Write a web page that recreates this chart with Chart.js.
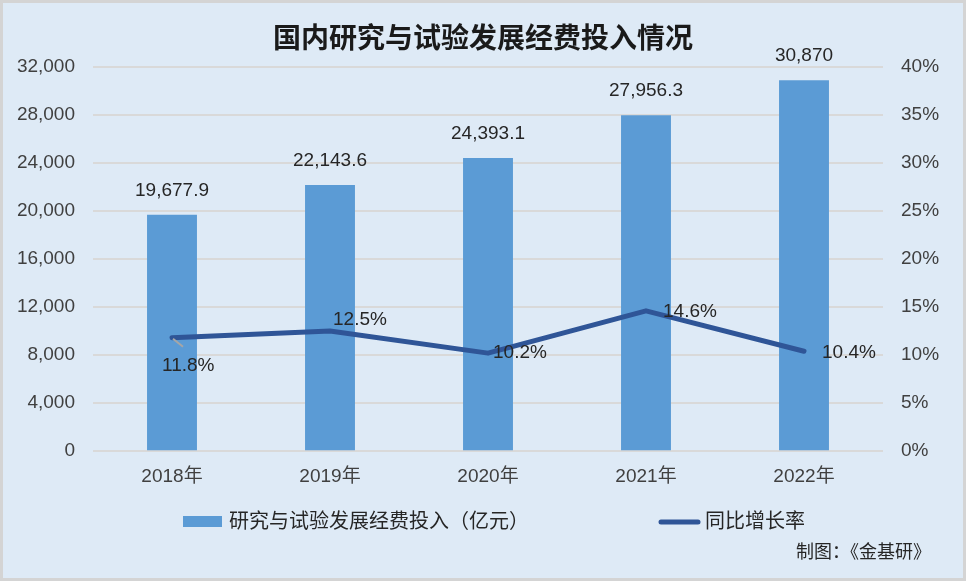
<!DOCTYPE html>
<html>
<head>
<meta charset="utf-8">
<script src="https://cdn.jsdelivr.net/npm/chart.js@4.4.0/dist/chart.umd.min.js"></script>
<style>
  html, body { margin: 0; padding: 0; background: #deeaf6; }
  #wrap { width: 966px; height: 581px; }
</style>
</head>
<body>
<div id="wrap"><canvas id="grafico" width="966" height="581"></canvas></div>
<script>
// --- DATOS ---
const years = ['2018年', '2019年', '2020年', '2021年', '2022年'];
const rdSpend = [19677.9, 22143.6, 24393.1, 27956.3, 30870];   // 亿元
const yoyGrowth = [11.8, 12.5, 10.2, 14.6, 10.4];              // %
const leftTicks = [0, 4000, 8000, 12000, 16000, 20000, 24000, 28000, 32000];
const rightTicks = [0, 5, 10, 15, 20, 25, 30, 35, 40];

const FONT = "'Liberation Sans', 'Noto Sans CJK SC', sans-serif";
const BAR_COLOR = '#5b9bd5';
const LINE_COLOR = '#2f5597';
const TEXT = '#404040';

// desplazamiento de las etiquetas de la línea (dx, dy) respecto al punto
const lineLabelOffsets = [[-10, 28], [3, -11], [5, 0], [17, 1], [18, 2]];

const fondo = {
    id: 'fondo',
    beforeDraw(chart) {
        const c = chart.ctx;
        c.save();
        c.fillStyle = '#deeaf6';
        c.fillRect(0, 0, chart.width, chart.height);
        c.strokeStyle = '#d4d4d4';
        c.lineWidth = 3;
        c.strokeRect(1.5, 1.5, chart.width - 3, chart.height - 3);
        c.restore();
    }
};

const etiquetas = {
    id: 'etiquetas',
    afterDatasetsDraw(chart) {
        const c = chart.ctx;
        c.save();
        c.font = '19px ' + FONT;
        c.fillStyle = '#262626';
        c.textBaseline = 'middle';

        // valores de las barras
        c.textAlign = 'center';
        chart.getDatasetMeta(0).data.forEach((el, i) => {
            const txt = rdSpend[i].toLocaleString('en-US', { maximumFractionDigits: 1 });
            c.fillText(txt, el.x, el.y - 24);
        });

        // valores de la línea
        c.textAlign = 'left';
        chart.getDatasetMeta(1).data.forEach((el, i) => {
            const [dx, dy] = lineLabelOffsets[i];
            if (i === 0) {
                c.strokeStyle = '#a6a6a6';
                c.lineWidth = 2;
                c.beginPath();
                c.moveTo(el.x + 1, el.y + 1);
                c.lineTo(el.x + 11, el.y + 9);
                c.stroke();
            }
            c.fillText(yoyGrowth[i].toFixed(1) + '%', el.x + dx, el.y + dy);
        });
        c.restore();
    },
    afterDraw(chart) {
        const c = chart.ctx;
        c.save();
        c.textBaseline = 'middle';
        c.textAlign = 'left';
        c.fillStyle = '#262626';
        c.font = '20px ' + FONT;

        // leyenda
        c.fillStyle = BAR_COLOR;
        c.fillRect(183, 516, 39, 11);
        c.fillStyle = '#262626';
        c.fillText(chart.data.datasets[0].label, 229, 522);

        c.strokeStyle = LINE_COLOR;
        c.lineWidth = 5;
        c.lineCap = 'round';
        c.beginPath();
        c.moveTo(661, 522);
        c.lineTo(698, 522);
        c.stroke();
        c.fillText(chart.data.datasets[1].label, 705, 522);

        // fuente
        c.font = '18px ' + FONT;
        c.textAlign = 'right';
        c.fillText('制图：《金基研》', 931, 553);
        c.restore();
    }
};

const ctx = document.getElementById('grafico').getContext('2d');
const grafico = new Chart(ctx, {
    type: 'bar',
    data: {
        labels: years,
        datasets: [
            {
                type: 'bar',
                label: '研究与试验发展经费投入（亿元）',
                data: rdSpend,
                backgroundColor: BAR_COLOR,
                yAxisID: 'y',
                categoryPercentage: 1,
                barPercentage: 0.316,
                order: 2
            },
            {
                type: 'line',
                label: '同比增长率',
                data: yoyGrowth,
                borderColor: LINE_COLOR,
                backgroundColor: LINE_COLOR,
                borderWidth: 5,
                borderCapStyle: 'round',
                borderJoinStyle: 'round',
                pointRadius: 0,
                tension: 0,
                yAxisID: 'y1',
                order: 1
            }
        ]
    },
    options: {
        responsive: false,
        animation: false,
        layout: { padding: { top: 0, bottom: 87, left: 0, right: 0 } },
        plugins: {
            legend: { display: false },
            tooltip: { enabled: false },
            title: {
                display: true,
                text: '国内研究与试验发展经费投入情况',
                color: '#1a1a1a',
                font: { family: FONT, size: 28, weight: 'bold' },
                padding: { top: 23, bottom: 10 }
            }
        },
        scales: {
            x: {
                grid: { display: false },
                border: { display: false },
                ticks: { color: TEXT, font: { family: FONT, size: 19 }, padding: 6 }
            },
            y: {
                position: 'left',
                min: 0,
                max: 32000,
                afterBuildTicks: (s) => { s.ticks = leftTicks.map(v => ({ value: v })); },
                afterFit: (s) => { s.width = 93; },
                grid: { color: '#d9d9d9', lineWidth: 2, drawTicks: false },
                border: { display: false },
                ticks: {
                    color: TEXT,
                    font: { family: FONT, size: 19 },
                    padding: 18,
                    callback: (v) => v.toLocaleString('en-US')
                }
            },
            y1: {
                position: 'right',
                min: 0,
                max: 40,
                afterBuildTicks: (s) => { s.ticks = rightTicks.map(v => ({ value: v })); },
                afterFit: (s) => { s.width = 83; },
                grid: { display: false, drawTicks: false },
                border: { display: false },
                ticks: {
                    color: TEXT,
                    font: { family: FONT, size: 19 },
                    padding: 18,
                    callback: (v) => v + '%'
                }
            }
        }
    },
    plugins: [fondo, etiquetas]
});
</script>
</body>
</html>
